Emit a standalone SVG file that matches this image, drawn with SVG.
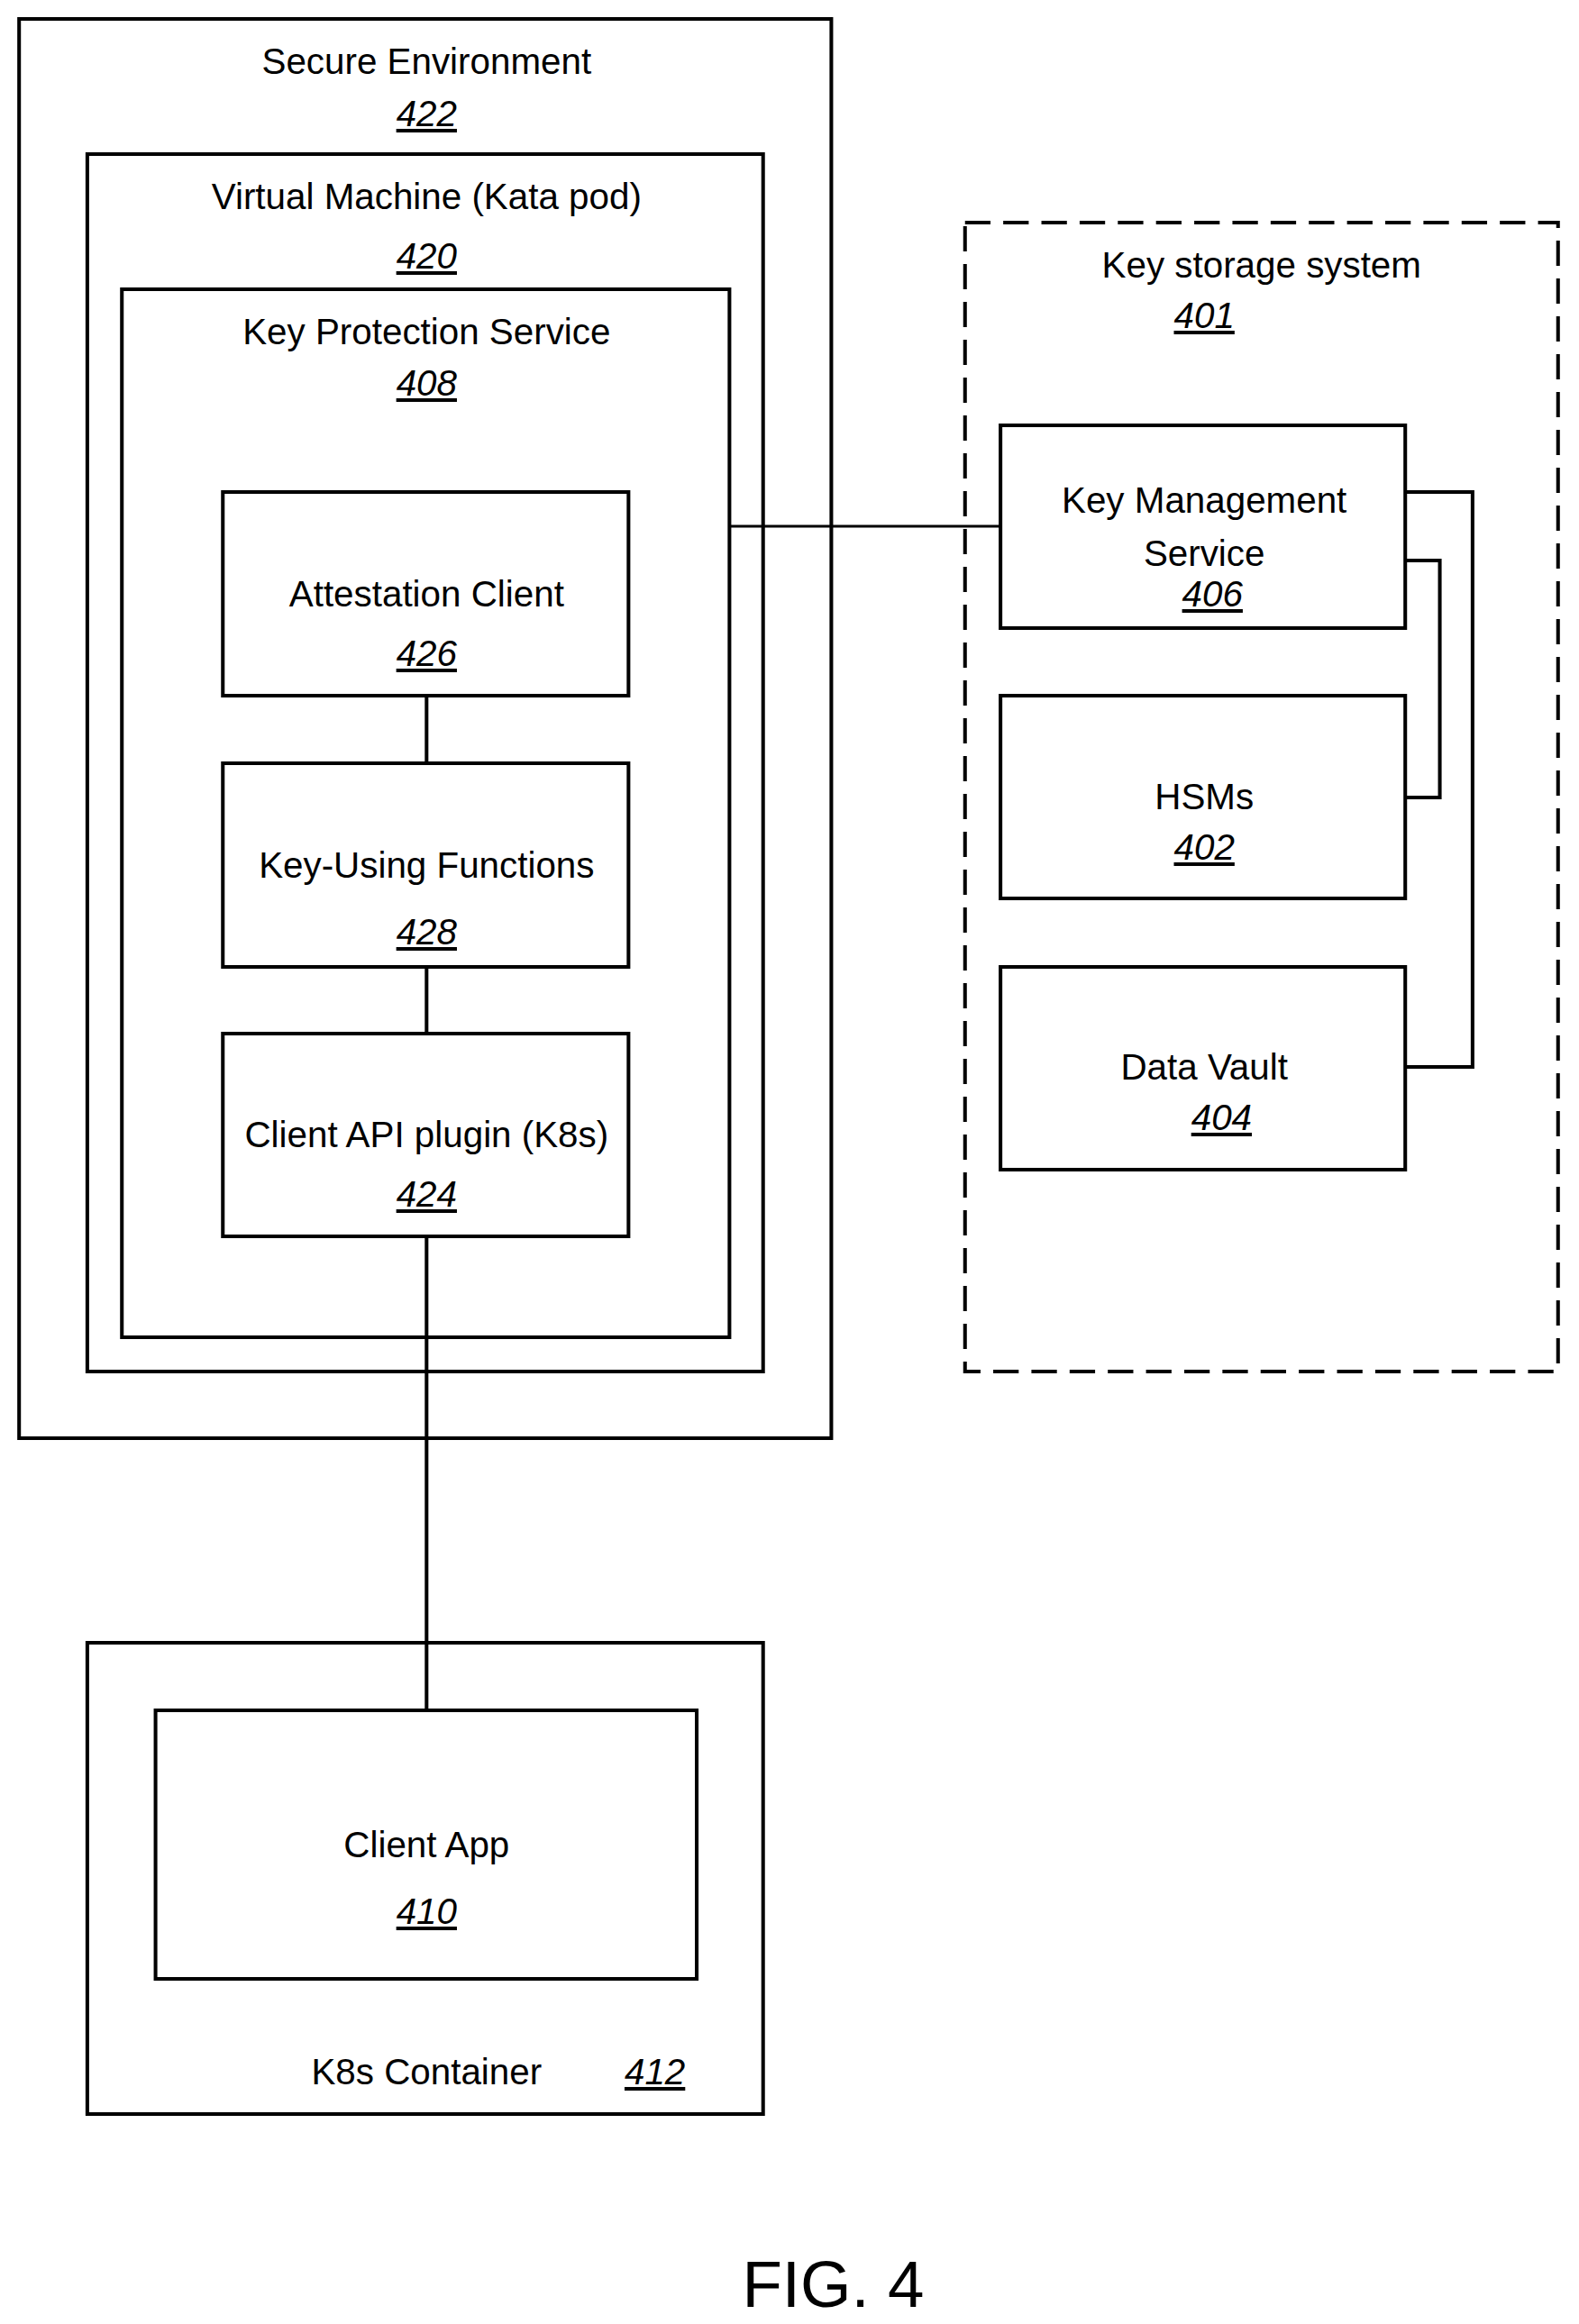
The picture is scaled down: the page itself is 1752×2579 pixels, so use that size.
<svg xmlns="http://www.w3.org/2000/svg" width="1752" height="2579" viewBox="0 0 1752 2579">
<style>
rect{fill:none;stroke:#000;stroke-width:4}
.d{stroke-dasharray:28,14}
line,polyline{stroke:#000;stroke-width:3;fill:none}
.t{stroke-width:4}
text{font-family:"Liberation Sans",Arial,sans-serif;font-size:40px;text-anchor:middle;fill:#000}
.n{font-style:italic;text-decoration:underline}
</style>
<rect width="1752" height="2579" style="fill:#fff;stroke:none"/>
<g transform="scale(1.0092 1)">
<g id="n422"><rect x="21" y="21" width="893" height="1575"/><text x="469" y="82">Secure Environment</text><text class="n" x="469" y="140">422</text></g>
<g id="n420"><rect x="96" y="171" width="743" height="1351"/><text x="469" y="232">Virtual Machine (Kata pod)</text><text class="n" x="469" y="298">420</text></g>
<g id="n408"><rect x="134" y="321" width="668" height="1163"/><text x="469" y="382">Key Protection Service</text><text class="n" x="469" y="439">408</text></g>
<g id="n426"><rect x="245" y="546" width="446" height="226"/><text x="469" y="673">Attestation Client</text><text class="n" x="469" y="739">426</text></g>
<g id="n428"><rect x="245" y="847" width="446" height="226"/><text x="469" y="974">Key-Using Functions</text><text class="n" x="469" y="1048">428</text></g>
<g id="n424"><rect x="245" y="1147" width="446" height="225"/><text x="469" y="1273">Client API plugin (K8s)</text><text class="n" x="469" y="1339">424</text></g>
<g id="n401"><rect class="d" x="1061" y="247" width="652" height="1275"/><text x="1387" y="308">Key storage system</text><text class="n" x="1324" y="364">401</text></g>
<g id="n406"><rect x="1100" y="472" width="445" height="225"/><text x="1324" y="569">Key Management</text><text x="1324" y="628">Service</text><text class="n" x="1333" y="673">406</text></g>
<g id="n402"><rect x="1100" y="772" width="445" height="225"/><text x="1324" y="898">HSMs</text><text class="n" x="1324" y="954">402</text></g>
<g id="n404"><rect x="1100" y="1073" width="445" height="225"/><text x="1324" y="1198">Data Vault</text><text class="n" x="1343" y="1254">404</text></g>
<g id="n412"><rect x="96" y="1823" width="743" height="523"/><text x="469" y="2313">K8s Container</text><text class="n" x="720" y="2313">412</text></g>
<g id="n410"><rect x="171" y="1898" width="595" height="298"/><text x="469" y="2061">Client App</text><text class="n" x="469" y="2135">410</text></g>
<g id="connectors">
<line class="t" x1="469" y1="772" x2="469" y2="847"/>
<line class="t" x1="469" y1="1073" x2="469" y2="1147"/>
<line class="t" x1="469" y1="1372" x2="469" y2="1898"/>
<line x1="802" y1="584" x2="1100" y2="584"/>
<polyline class="t" points="1545,546 1619,546 1619,1184 1545,1184"/>
<polyline class="t" points="1545,622 1583,622 1583,885 1545,885"/>
</g>
<text x="916" y="2560" style="font-size:72px">FIG. 4</text>
</g>
</svg>
